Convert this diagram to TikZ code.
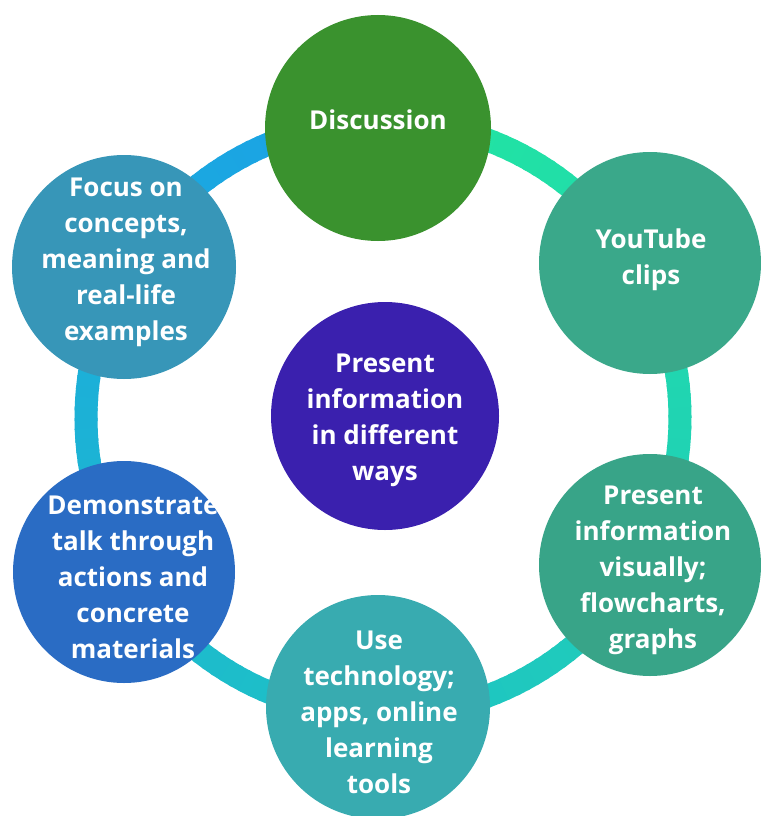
\documentclass[tikz,border=0pt]{standalone}
\usepackage{fontspec}
\setmainfont{Open Sans}
\definecolor{ringA}{HTML}{1AA0E8}
\definecolor{ringB}{HTML}{22E6A0}
\definecolor{cDisc}{HTML}{3A922E}
\definecolor{cYT}{HTML}{3AA88A}
\definecolor{cVis}{HTML}{38A488}
\definecolor{cUse}{HTML}{38ABB0}
\definecolor{cDemo}{HTML}{2A6CC4}
\definecolor{cFocus}{HTML}{3796B8}
\definecolor{cCenter}{HTML}{3A20AE}
\begin{document}
\begin{tikzpicture}[x=1pt,y=-1pt,
  bub/.style={circle, minimum size=#1, inner sep=0pt, draw=none},
  lab/.style={text=white, font=\bfseries\fontsize{26}{36}\selectfont, align=center, inner sep=0pt}]
\useasboundingbox (0,0) rectangle (760,816);
\fill[white] (0,0) rectangle (760,816);
\coordinate (ringc) at (383,418);
% ring with conic gradient
\foreach \i in {0,...,179}{
  \pgfmathsetmacro\p{\i/1.8}
  \pgfmathsetmacro\aa{270-2*\i}
  \pgfmathsetmacro\bb{270-2*\i-2.6}
  \draw[shift={(ringc)}, line width=23pt, color=ringB!\p!ringA] (\aa:297) arc[start angle=\aa, end angle=\bb, radius=297];
}
% circles
\node[bub=226pt, fill=cDisc] (disc) at (378,128) {};
\node[bub=222pt, fill=cYT] (yt) at (650,263) {};
\node[bub=222pt, fill=cVis] (vis) at (650,565) {};
\node[bub=224pt, fill=cUse] (use) at (378,707) {};
\node[bub=222pt, fill=cDemo] (demo) at (124,572) {};
\node[bub=224pt, fill=cFocus] (focus) at (124,267) {};
\node[bub=228pt, fill=cCenter] (center) at (385,416) {};
% texts
\node[lab] (tdisc) at (378,120) {Discussion};
\node[lab] (tyt) at (651,260) {YouTube\\clips};
\node[lab] (tvis) at (653,570) {Present\\information\\visually;\\flowcharts,\\graphs};
\node[lab] (tuse) at (379,712) {Use\\technology;\\apps, online\\learning\\tools};
\node[lab] (tdemo) at (133,577) {Demonstrate\\talk through\\actions and\\concrete\\materials};
\node[lab] (tfocus) at (126,262) {Focus on\\concepts,\\meaning and\\real-life\\examples};
\node[lab] (tcenter) at (385,420) {Present\\information\\in different\\ways};
\end{tikzpicture}
\end{document}
